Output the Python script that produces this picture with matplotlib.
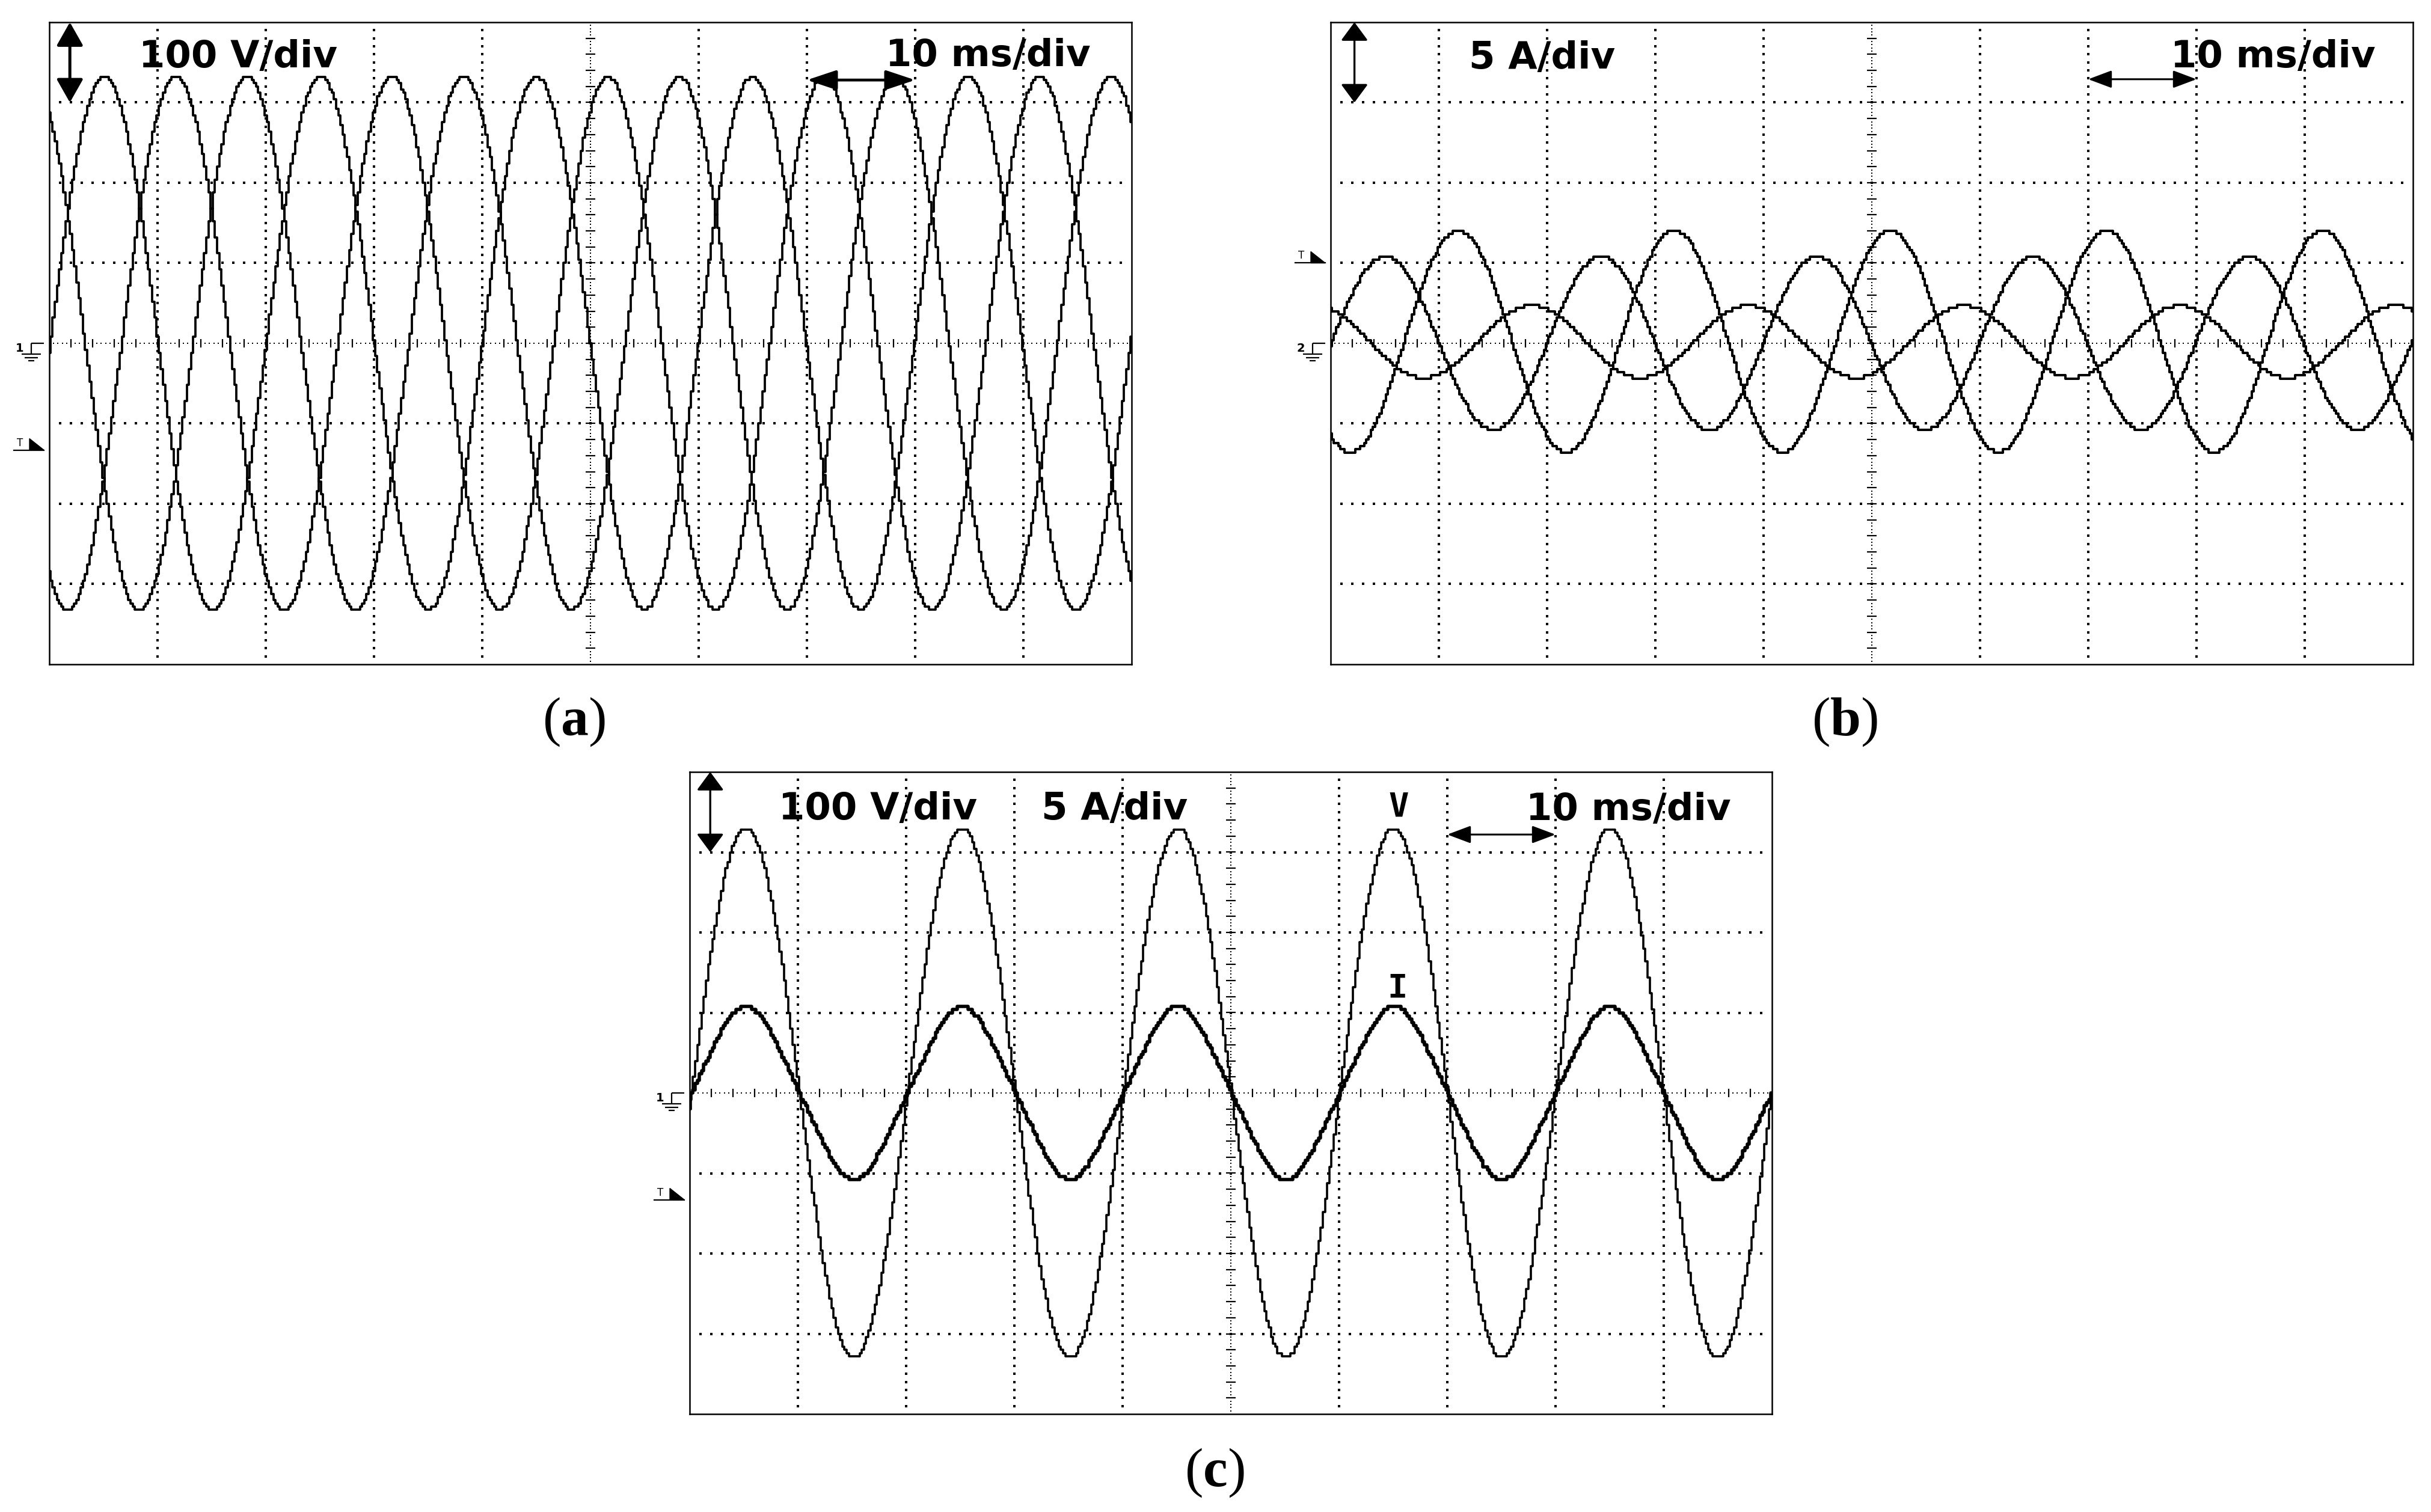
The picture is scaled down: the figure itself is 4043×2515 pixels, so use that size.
import numpy as np
import matplotlib
matplotlib.use("Agg")
import matplotlib.pyplot as plt
from matplotlib.lines import Line2D
from matplotlib.patches import Polygon
from matplotlib.transforms import Affine2D

plt.rcParams['mathtext.fontset'] = 'custom'
plt.rcParams['mathtext.bf'] = 'Liberation Serif:bold'
plt.rcParams['mathtext.rm'] = 'Liberation Serif'

# ---------------- data ----------------
line_freq_hz = 50.1
time_per_div_ms = 10.0
volt_per_div = 100.0
amp_per_div = 5.0

# (a) three-phase voltages
va_amplitude_v = [332.0, 332.0, 332.0]
va_peak_ms = [5.1, 11.7, 18.3]

# (b) three-phase currents (unbalanced)
ib_amplitude_a = [6.9, 5.4, 2.25]
ib_peak_ms = [11.8, 5.05, 18.6]
ib_offset_a = [0.12, 0.0, 0.1]

# (c) one phase: voltage and current
vc_amplitude_v = 330.0
vc_peak_ms = 5.2
ic_amplitude_a = 5.2
ic_third_harmonic_a = 0.2
ic_peak_ms = 5.2

# scope settings / annotations
screen_divs_x = 10
screen_divs_y = 8
ground_labels = ['1', '2', '1']
trigger_level_div = [-1.33, 1.0, -1.33]
panel_labels = ['a', 'b', 'c']

# ---------------- figure ----------------
W, H = 4043, 2515
DPI = 100
fig = plt.figure(figsize=(W / DPI, H / DPI), dpi=DPI)
fig.patch.set_facecolor('white')

t_ms = np.arange(0.0, screen_divs_x * time_per_div_ms + 1e-9, 0.2)


def wave(t, amp, peak, offset=0.0, h3=0.0):
    th = 2 * np.pi * line_freq_hz * (t - peak) / 1000.0
    return amp * np.cos(th) + h3 * np.cos(3 * th) + offset


def to_div(values, per_div):
    v = np.asarray(values) / per_div
    return np.round(v * 25.0) / 25.0  # scope vertical resolution


def setup_panel(rect, ground_label, trig_level):
    ax = fig.add_axes(rect)
    ax.set_xlim(0, screen_divs_x)
    ax.set_ylim(-screen_divs_y / 2, screen_divs_y / 2)
    ax.set_xticks([])
    ax.set_yticks([])
    for s in ax.spines.values():
        s.set_linewidth(1.8)
        s.set_color('black')
    dot = dict(ls='none', marker='s', color='black', mew=0, zorder=1)
    gx = np.round(np.arange(0.1, screen_divs_x, 0.1), 3)
    for yl in [-3, -2, -1, 1, 2, 3]:
        ax.plot(gx, np.full_like(gx, yl), ms=2.4, **dot)
    gy = np.round(np.arange(-3.9, 4.0, 0.1), 3)
    for xl in [1, 2, 3, 4, 6, 7, 8, 9]:
        ax.plot(np.full_like(gy, xl), gy, ms=2.4, **dot)
    cx = np.arange(0.04, screen_divs_x, 0.04)
    ax.plot(cx, np.zeros_like(cx), ms=2.0, **dot)
    cy = np.arange(-3.96, 4.0, 0.04)
    ax.plot(np.full_like(cy, 5.0), cy, ms=2.0, **dot)
    tx = np.arange(0.2, screen_divs_x, 0.2)
    ax.plot(tx, np.zeros_like(tx), ls='none', marker='|', ms=9.5, mew=1.6,
            color='black', zorder=1)
    ty = np.arange(-3.8, 4.0, 0.2)
    ax.plot(np.full_like(ty, 5.0), ty, ls='none', marker='_', ms=11, mew=1.6,
            color='black', zorder=1)

    # ground marker (pixel offsets relative to left border / ground line)
    x0, y0 = ax.transData.transform((0, 0))
    tr = Affine2D().translate(x0, y0)
    lk = dict(color='black', lw=1.6, transform=tr, solid_capstyle='butt')
    fig.add_artist(Line2D([-30, -9], [0, 0], **lk))
    fig.add_artist(Line2D([-30, -30], [0, -18], **lk))
    for yy, hw in [(-18, 16), (-24, 11), (-29, 5)]:
        fig.add_artist(Line2D([-30 - hw, -30 + hw], [yy, yy], **lk))
    fig.text(-56, 1, ground_label, transform=tr, fontsize=14, fontweight='bold',
             family='DejaVu Sans', ha='left', va='top')

    # trigger marker
    x1, y1 = ax.transData.transform((0, trig_level))
    tr2 = Affine2D().translate(x1, y1)
    fig.add_artist(Line2D([-59, -9], [0, 0], color='black', lw=1.6, transform=tr2))
    fig.add_artist(Polygon([[-33, 0], [-33, 19], [-9, 0]], closed=True,
                           color='black', transform=tr2))
    fig.text(-49, 3, 'T', transform=tr2, fontsize=12, family='DejaVu Sans',
             ha='center', va='bottom')
    return ax


def add_text(ax, x, y, s, size=45, family='DejaVu Sans'):
    ax.text(x, y, s, fontsize=size, fontweight='heavy', family=family,
            ha='left', va='baseline', color='black', zorder=5)


def varrow(ax, x, lw, hl, hw):
    ax.annotate('', xy=(x, 4.0), xytext=(x, 3.0),
                arrowprops=dict(arrowstyle=f'<|-|>,head_length={hl},head_width={hw}',
                                lw=lw, color='black', shrinkA=0, shrinkB=0,
                                mutation_scale=20))


def harrow(ax, y, lw, hl, hw):
    ax.annotate('', xy=(8.0, y), xytext=(7.0, y),
                arrowprops=dict(arrowstyle=f'<|-|>,head_length={hl},head_width={hw}',
                                lw=lw, color='black', shrinkA=0, shrinkB=0,
                                mutation_scale=20))


x_div = t_ms / time_per_div_ms
pw, ph = 1800 / W, 1068 / H

# ---------------- (a) ----------------
ax_a = setup_panel([82 / W, 1 - 1105 / H, pw, ph], ground_labels[0], trigger_level_div[0])
for amp, pk in zip(va_amplitude_v, va_peak_ms):
    ax_a.plot(x_div, to_div(wave(t_ms, amp, pk), volt_per_div), color='black',
              lw=2.7, drawstyle='steps-mid', zorder=3)
add_text(ax_a, 0.83, 3.44, '100 V/div')
add_text(ax_a, 7.73, 3.45, '10 ms/div')
varrow(ax_a, 0.19, 3.6, 1.2, 0.68)
harrow(ax_a, 3.28, 3.4, 1.5, 0.5)

# ---------------- (b) ----------------
ax_b = setup_panel([2213 / W, 1 - 1105 / H, pw, ph], ground_labels[1], trigger_level_div[1])
for amp, pk, off in zip(ib_amplitude_a, ib_peak_ms, ib_offset_a):
    ax_b.plot(x_div, to_div(wave(t_ms, amp, pk, off), amp_per_div), color='black',
              lw=2.9, drawstyle='steps-mid', zorder=3)
add_text(ax_b, 1.28, 3.42, '5 A/div')
add_text(ax_b, 7.76, 3.44, '10 ms/div')
varrow(ax_b, 0.22, 2.4, 0.95, 0.7)
harrow(ax_b, 3.29, 2.2, 1.2, 0.45)

# ---------------- (c) ----------------
ax_c = setup_panel([1147 / W, 1 - 2352 / H, pw, ph], ground_labels[2], trigger_level_div[2])
ax_c.plot(x_div, to_div(wave(t_ms, vc_amplitude_v, vc_peak_ms), volt_per_div),
          color='black', lw=2.6, drawstyle='steps-mid', zorder=3)
ax_c.plot(x_div, to_div(wave(t_ms, ic_amplitude_a, ic_peak_ms, 0.0, ic_third_harmonic_a),
                        amp_per_div),
          color='black', lw=4.0, drawstyle='steps-mid', zorder=3)
add_text(ax_c, 0.82, 3.41, '100 V/div')
add_text(ax_c, 3.25, 3.41, '5 A/div')
add_text(ax_c, 7.73, 3.40, '10 ms/div')
ax_c.text(6.55, 3.45, 'V', fontsize=40, fontweight='bold', family='DejaVu Sans Mono',
          ha='center', va='baseline', zorder=5)
ax_c.text(6.54, 1.19, 'I', fontsize=40, fontweight='bold', family='DejaVu Sans Mono',
          ha='center', va='baseline', zorder=5)
varrow(ax_c, 0.19, 2.4, 0.95, 0.7)
harrow(ax_c, 3.22, 2.2, 1.2, 0.45)

# ---------------- panel labels ----------------
for lab, (fx, fy) in zip(panel_labels, [(954, 1201), (3068, 1201), (2020, 2450)]):
    fig.text(fx / W, 1 - fy / H, '(' + r'$\mathbf{' + lab + '}$' + ')',
             fontsize=66, family='Liberation Serif', ha='center', va='center')

fig.savefig('out.png', dpi=DPI, facecolor='white')
